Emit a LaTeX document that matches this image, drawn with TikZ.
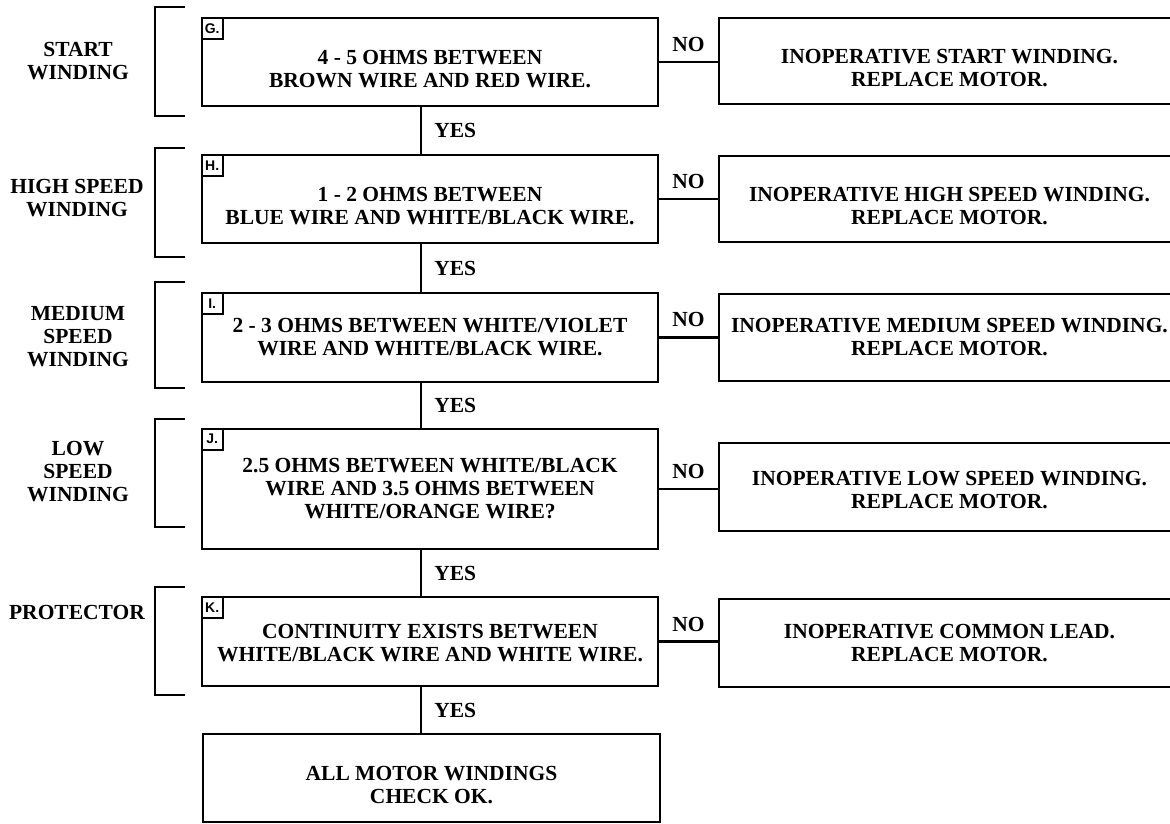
\documentclass[tikz,border=0pt]{standalone}
\usepackage{fontspec}
\setmainfont{Liberation Serif}
\newfontfamily\tagfont{Liberation Sans}
\usepackage{tikz}

% text set a little below the middle of its box
\newcommand{\lowtext}[2]{\raisebox{-#1}[\height][\depth]{\begin{tabular}{@{}c@{}}#2\end{tabular}}}

\begin{document}
\begin{tikzpicture}[x=1pt,y=-1pt,
  box/.style={draw,line width=2.8pt,minimum width=456pt,align=center,
              inner sep=0pt,font=\fontsize{21.5}{23}\selectfont\bfseries},
  failbox/.style={box,minimum width=461pt},
  tagbox/.style={draw,line width=2.2pt,minimum size=21pt,inner sep=0pt,anchor=north west,
              font=\tagfont\fontsize{14}{14}\selectfont\bfseries},
  lbl/.style={align=center,inner sep=0pt,font=\fontsize{21.5}{23}\selectfont\bfseries},
  wire/.style={line width=2.6pt},
  brk/.style={line width=2.8pt}]

  \useasboundingbox (0,0) rectangle (1170,823);

  % test boxes
  \node[box,minimum height=88pt]  (g)  at (430,62)    {\lowtext{9pt}{4 - 5 OHMS BETWEEN\\BROWN WIRE AND RED WIRE.}};
  \node[box,minimum height=88pt]  (h)  at (430,199)   {\lowtext{9pt}{1 - 2 OHMS BETWEEN\\BLUE WIRE AND WHITE/BLACK WIRE.}};
  \node[box,minimum height=89pt]  (i)  at (430,337.5) {2 - 3 OHMS BETWEEN WHITE/VIOLET\\WIRE AND WHITE/BLACK WIRE.};
  \node[box,minimum height=120pt] (j)  at (430,489)   {2.5 OHMS BETWEEN WHITE/BLACK\\WIRE AND 3.5 OHMS BETWEEN\\WHITE/ORANGE WIRE?};
  \node[box,minimum height=89pt]  (k)  at (430,641.5) {\lowtext{4pt}{CONTINUITY EXISTS BETWEEN\\WHITE/BLACK WIRE AND WHITE WIRE.}};
  \node[box,minimum height=88pt,minimum width=457pt] (ok) at (431.5,778) {\lowtext{9pt}{ALL MOTOR WINDINGS\\CHECK OK.}};

  % step tags
  \node[tagbox] (gtag) at (g.north west) {G.};
  \node[tagbox] (htag) at (h.north west) {H.};
  \node[tagbox] (itag) at (i.north west) {I.};
  \node[tagbox] (jtag) at (j.north west) {J.};
  \node[tagbox] (ktag) at (k.north west) {K.};

  % fault boxes
  \node[failbox,minimum height=86pt] (gfail) at (949.5,61)    {\lowtext{9pt}{INOPERATIVE START WINDING.\\REPLACE MOTOR.}};
  \node[failbox,minimum height=86pt] (hfail) at (949.5,199)   {\lowtext{9pt}{INOPERATIVE HIGH SPEED WINDING.\\REPLACE MOTOR.}};
  \node[failbox,minimum height=87pt] (ifail) at (949.5,337.5) {INOPERATIVE MEDIUM SPEED WINDING.\\REPLACE MOTOR.};
  \node[failbox,minimum height=88pt] (jfail) at (949.5,487)   {\lowtext{5pt}{INOPERATIVE LOW SPEED WINDING.\\REPLACE MOTOR.}};
  \node[failbox,minimum height=88pt] (kfail) at (949.5,643)   {INOPERATIVE COMMON LEAD.\\REPLACE MOTOR.};

  % group labels
  \node[lbl] (start)  at (78,61)  {START\\WINDING};
  \node[lbl] (high)   at (77,198) {HIGH SPEED\\WINDING};
  \node[lbl] (medium) at (78,337) {MEDIUM\\SPEED\\WINDING};
  \node[lbl] (low)    at (78,472) {LOW\\SPEED\\WINDING};
  \node[lbl] (prot)   at (77,612) {PROTECTOR};

  % brackets
  \draw[brk] (185,7)   -- (155,7)   -- (155,116) -- (185,116);
  \draw[brk] (185,148) -- (155,148) -- (155,257) -- (185,257);
  \draw[brk] (185,282) -- (155,282) -- (155,388) -- (185,388);
  \draw[brk] (185,419) -- (155,419) -- (155,527) -- (185,527);
  \draw[brk] (185,587) -- (155,587) -- (155,695) -- (185,695);

  % yes path
  \coordinate (col) at (421,0);
  \draw[wire] (g.south -| col) -- node[lbl,right=12pt] (gyes) {YES} (h.north -| col);
  \draw[wire] (h.south -| col) -- node[lbl,right=12pt] (hyes) {YES} (i.north -| col);
  \draw[wire] (i.south -| col) -- node[lbl,right=12pt] (iyes) {YES} (j.north -| col);
  \draw[wire] (j.south -| col) -- node[lbl,right=12pt] (jyes) {YES} (k.north -| col);
  \draw[wire] (k.south -| col) -- node[lbl,right=12pt] (kyes) {YES} (ok.north -| col);

  % no path
  \draw[wire] (g.east) -- node[lbl,above=9pt] (gno) {NO} (g.east -| gfail.west);
  \draw[wire] (h.east) -- node[lbl,above=9pt] (hno) {NO} (h.east -| hfail.west);
  \draw[wire] (i.east) -- node[lbl,above=9pt] (ino) {NO} (i.east -| ifail.west);
  \draw[wire] (j.east) -- node[lbl,above=9pt] (jno) {NO} (j.east -| jfail.west);
  \draw[wire] (k.east) -- node[lbl,above=9pt] (kno) {NO} (k.east -| kfail.west);

\end{tikzpicture}
\end{document}
